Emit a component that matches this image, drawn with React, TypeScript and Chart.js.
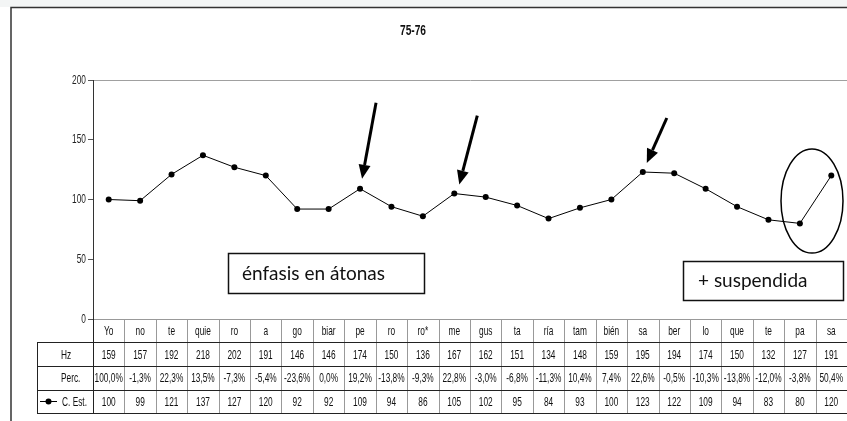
import { useEffect, useRef } from 'react';
import { Chart, registerables } from 'chart.js';
Chart.register(...registerables);

const TITLE = '75-76';
const categories = ['Yo', 'no', 'te', 'quie', 'ro', 'a', 'go', 'biar', 'pe', 'ro', 'ro*', 'me', 'gus', 'ta', 'ría', 'tam', 'bién', 'sa', 'ber', 'lo', 'que', 'te', 'pa', 'sa'];
const hz = [159, 157, 192, 218, 202, 191, 146, 146, 174, 150, 136, 167, 162, 151, 134, 148, 159, 195, 194, 174, 150, 132, 127, 191];
const perc = ['100,0%', '-1,3%', '22,3%', '13,5%', '-7,3%', '-5,4%', '-23,6%', '0,0%', '19,2%', '-13,8%', '-9,3%', '22,8%', '-3,0%', '-6,8%', '-11,3%', '10,4%', '7,4%', '22,6%', '-0,5%', '-10,3%', '-13,8%', '-12,0%', '-3,8%', '50,4%'];
const cest = [100, 99, 121, 137, 127, 120, 92, 92, 109, 94, 86, 105, 102, 95, 84, 93, 100, 123, 122, 109, 94, 83, 80, 120];
const rowLabels = ['Hz', 'Perc.', 'C. Est.'];
const yTicks = { min: 0, max: 200, step: 50 };
const notes = ['énfasis en átonas', '+ suspendida'];
const arrowTargets = [8, 11, 17];

const SANS = '"Liberation Sans", Arial, sans-serif';
const NOTE_FONT = 'Lato, "Open Sans", sans-serif';
const NARROW_SCALE = 0.64;

const narrowText = (
  ctx: CanvasRenderingContext2D,
  text: string,
  x: number,
  y: number,
  align: CanvasTextAlign,
  font: string,
  color = '#111',
  sx = NARROW_SCALE
) => {
  ctx.save();
  ctx.font = font;
  ctx.fillStyle = color;
  ctx.textAlign = align;
  ctx.textBaseline = 'middle';
  ctx.translate(x, y);
  ctx.scale(sx, 1);
  ctx.fillText(text, 0, 0);
  ctx.restore();
};

const drawArrow = (ctx: CanvasRenderingContext2D, x1: number, y1: number, x2: number, y2: number) => {
  const ang = Math.atan2(y2 - y1, x2 - x1);
  const headLen = 14;
  const headW = 6;
  const bx = x2 - headLen * Math.cos(ang);
  const by = y2 - headLen * Math.sin(ang);
  ctx.save();
  ctx.strokeStyle = '#000';
  ctx.fillStyle = '#000';
  ctx.lineWidth = 3;
  ctx.beginPath();
  ctx.moveTo(x1, y1);
  ctx.lineTo(bx, by);
  ctx.stroke();
  ctx.beginPath();
  ctx.moveTo(x2, y2);
  ctx.lineTo(bx + headW * Math.sin(ang), by - headW * Math.cos(ang));
  ctx.lineTo(bx - headW * Math.sin(ang), by + headW * Math.cos(ang));
  ctx.closePath();
  ctx.fill();
  ctx.restore();
};

const framePlugin = {
  id: 'framePlugin',
  beforeDraw(chart: any) {
    const { ctx, width, height } = chart;
    ctx.save();
    ctx.fillStyle = '#fff';
    ctx.fillRect(0, 0, width, height);
    ctx.fillStyle = '#f3f5f5';
    ctx.fillRect(0, 0, width, 7);
    ctx.strokeStyle = '#333';
    ctx.lineWidth = 1.5;
    ctx.beginPath();
    ctx.moveTo(11, height);
    ctx.lineTo(11, 7.5);
    ctx.lineTo(width, 7.5);
    ctx.stroke();
    ctx.restore();
    narrowText(ctx, TITLE, 413, 31, 'center', `bold 15px ${SANS}`, '#111', 0.68);
  },
  afterDraw(chart: any) {
    const { ctx, chartArea } = chart;
    const xs = chart.scales.x;
    const ys = chart.scales.y;
    const n = categories.length;
    const centers = categories.map((_, i) => xs.getPixelForValue(i));
    const half = (centers[1] - centers[0]) / 2;
    const left = chartArea.left;
    const right = centers[n - 1] + half;
    const top = chartArea.bottom;
    const rows = [top, top + 23, top + 47, top + 70.5, top + 94];
    const tableFont = `13px ${SANS}`;

    // y tick labels
    for (let v = yTicks.min; v <= yTicks.max; v += yTicks.step) {
      narrowText(ctx, String(v), left - 7, ys.getPixelForValue(v), 'right', tableFont, '#222');
    }

    ctx.save();
    // vertical grey lines
    ctx.strokeStyle = '#999';
    ctx.lineWidth = 1;
    for (let i = 1; i <= n; i++) {
      const x = Math.round(centers[i - 1] + half) + 0.5;
      ctx.beginPath();
      ctx.moveTo(x, rows[0]);
      ctx.lineTo(x, rows[4]);
      ctx.stroke();
    }
    // top of category row
    ctx.beginPath();
    ctx.moveTo(left, rows[0] + 0.5);
    ctx.lineTo(right, rows[0] + 0.5);
    ctx.stroke();
    // dark horizontal lines
    const headLeft = 37;
    ctx.strokeStyle = '#222';
    for (let r = 1; r <= 4; r++) {
      const y = Math.round(rows[r]) + 0.5;
      ctx.beginPath();
      ctx.moveTo(headLeft, y);
      ctx.lineTo(right, y);
      ctx.stroke();
    }
    // left borders
    ctx.beginPath();
    ctx.moveTo(headLeft + 0.5, rows[1]);
    ctx.lineTo(headLeft + 0.5, rows[4]);
    ctx.stroke();
    ctx.beginPath();
    ctx.moveTo(left + 0.5, rows[0]);
    ctx.lineTo(left + 0.5, rows[4]);
    ctx.stroke();
    ctx.restore();

    // texts
    const rowData = [categories, hz.map(String), perc, cest.map(String)];
    rowData.forEach((vals, r) => {
      const cy = (rows[r] + rows[r + 1]) / 2 + 1;
      vals.forEach((v, i) => narrowText(ctx, v, centers[i], cy, 'center', tableFont));
    });
    rowLabels.forEach((lab, r) => {
      const cy = (rows[r + 1] + rows[r + 2]) / 2 + 1;
      narrowText(ctx, lab, r === 2 ? 62 : 61, cy, 'left', tableFont);
    });

    ctx.save();
    // legend key
    const ky = Math.round((rows[3] + rows[4]) / 2);
    ctx.strokeStyle = '#000';
    ctx.lineWidth = 1;
    ctx.beginPath();
    ctx.moveTo(40, ky + 0.5);
    ctx.lineTo(57, ky + 0.5);
    ctx.stroke();
    ctx.fillStyle = '#000';
    ctx.beginPath();
    ctx.arc(48.5, ky + 0.5, 3, 0, Math.PI * 2);
    ctx.fill();

    // arrows
    const offs = [
      { sx: 16, sy: -86, tx: 2, ty: -10 },
      { sx: 23, sy: -78, tx: 5, ty: -9 },
      { sx: 24, sy: -54, tx: 4, ty: -9 },
    ];
    arrowTargets.forEach((idx, k) => {
      const px = xs.getPixelForValue(idx);
      const py = ys.getPixelForValue(cest[idx]);
      const o = offs[k];
      drawArrow(ctx, px + o.sx, py + o.sy, px + o.tx, py + o.ty);
    });

    // ellipse around last two points
    ctx.strokeStyle = '#000';
    ctx.lineWidth = 1.5;
    ctx.beginPath();
    ctx.ellipse(812, 201, 31, 52, 0, 0, Math.PI * 2);
    ctx.stroke();

    // note boxes
    ctx.lineWidth = 1.5;
    ctx.strokeStyle = '#111';
    const boxes = [
      { x: 228, y: 253, w: 196, h: 40, tx: 242, ty: 274 },
      { x: 683, y: 261, w: 160, h: 39, tx: 698, ty: 281 },
    ];
    boxes.forEach((b, i) => {
      ctx.fillStyle = '#fff';
      ctx.fillRect(b.x, b.y, b.w, b.h);
      ctx.strokeRect(b.x + 0.5, b.y + 0.5, b.w, b.h);
      ctx.fillStyle = '#111';
      ctx.font = `19px ${NOTE_FONT}`;
      ctx.textAlign = 'left';
      ctx.textBaseline = 'middle';
      ctx.fillText(notes[i], b.tx, b.ty);
    });
    ctx.restore();
  },
};

export default function App() {
  const ref = useRef<HTMLCanvasElement>(null);
  useEffect(() => {
    const chart = new Chart(ref.current!, {
      type: 'line',
      data: {
        labels: categories,
        datasets: [
          {
            label: 'C. Est.',
            data: cest,
            borderColor: '#000',
            borderWidth: 1,
            pointRadius: 3,
            pointBackgroundColor: '#000',
            pointBorderWidth: 0,
            tension: 0,
          },
        ],
      },
      options: {
        responsive: false,
        animation: false,
        devicePixelRatio: 1,
        layout: { autoPadding: false, padding: { left: 0, right: 0, top: 80, bottom: 102 } },
        plugins: { legend: { display: false }, tooltip: { enabled: false }, title: { display: false } },
        scales: {
          x: { display: false, offset: true },
          y: {
            min: yTicks.min,
            max: yTicks.max,
            afterFit: (scale: any) => {
              scale.width = 93;
            },
            ticks: {
              stepSize: yTicks.step,
              color: 'rgba(0,0,0,0)',
              padding: 2,
              font: { family: SANS, size: 11 },
            },
            grid: {
              color: (c: any) => (c.tick && c.tick.value === yTicks.max ? '#a0a0a0' : 'rgba(0,0,0,0)'),
              tickColor: '#555',
              tickLength: 5,
            },
            border: { display: true, color: '#333', width: 1 },
          },
        },
      },
      plugins: [framePlugin],
    });
    return () => chart.destroy();
  }, []);
  return (
    <div style={{ position: 'absolute', left: 0, top: 0, width: 847, height: 421, overflow: 'hidden' }}>
      <canvas ref={ref} width={847} height={421} style={{ display: 'block' }} />
    </div>
  );
}
